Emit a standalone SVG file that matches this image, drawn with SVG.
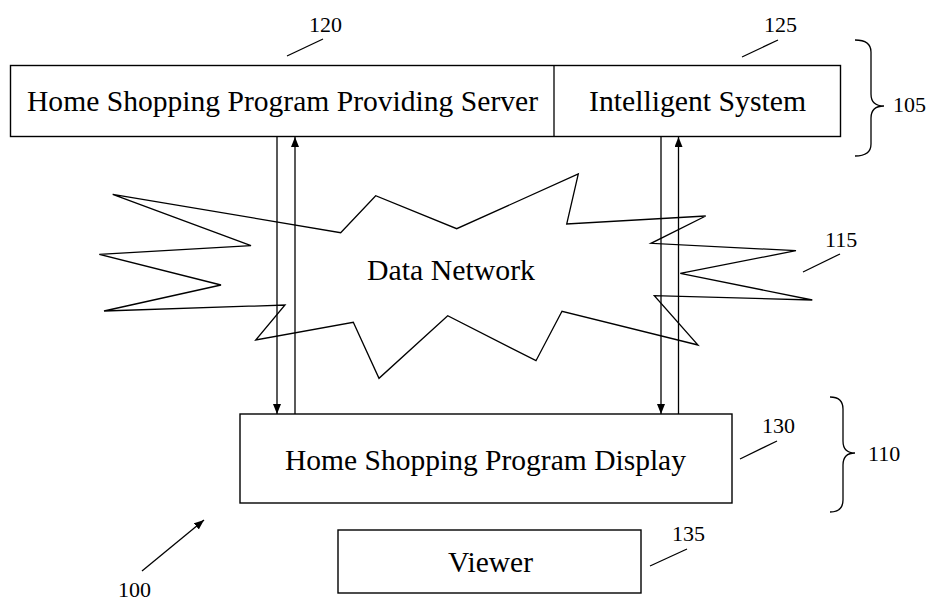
<svg xmlns="http://www.w3.org/2000/svg" width="932" height="603" viewBox="0 0 932 603">
<style>
.box{fill:#fff;stroke:#000;stroke-width:1.4}
.ln{fill:none;stroke:#000;stroke-width:1.3}
.lbl{font-family:"Liberation Serif","Times New Roman",serif;font-size:29px;fill:#000}
.num{font-family:"Liberation Serif","Times New Roman",serif;font-size:22px;fill:#000}
</style>
<defs>
<marker id="ah" markerUnits="userSpaceOnUse" markerWidth="10" markerHeight="8" refX="10" refY="4" orient="auto">
<path d="M0,0 L10,4 L0,8 z" fill="#000"/>
</marker>
</defs>
<rect width="932" height="603" fill="#fff"/>
<g id="network">
<polygon class="ln" points="112.7,194.3 251,245.7 99.3,254.3 221,285 104,311 285,305 255.7,340 353.3,322.3 379,378.3 447.7,315.7 536,360.7 562,311.3 698,345 654.3,295.7 812.3,300 680.3,273.3 796,250.7 651,243.3 705.7,216 566.7,224 578.3,174 456.7,228.7 375.7,195.7 340.7,232.7"/>
<text class="lbl" x="367" y="280" textLength="168" lengthAdjust="spacingAndGlyphs">Data Network</text>
</g>
<g id="server">
<rect class="box" x="10.5" y="65.5" width="830" height="71"/>
<line class="ln" x1="554" y1="65.5" x2="554" y2="136.5"/>
<text class="lbl" x="27" y="111" textLength="511" lengthAdjust="spacingAndGlyphs">Home Shopping Program Providing Server</text>
<text class="lbl" x="589" y="111" textLength="217" lengthAdjust="spacingAndGlyphs">Intelligent System</text>
</g>
<g id="display">
<rect class="box" x="240" y="414" width="492" height="89"/>
<text class="lbl" x="285" y="470" textLength="401" lengthAdjust="spacingAndGlyphs">Home Shopping Program Display</text>
</g>
<g id="viewer">
<rect class="box" x="338" y="530" width="303" height="63"/>
<text class="lbl" x="448" y="572" textLength="85" lengthAdjust="spacingAndGlyphs">Viewer</text>
</g>
<g id="connectors">
<line class="ln" x1="277" y1="137" x2="277" y2="414" marker-end="url(#ah)"/>
<line class="ln" x1="295" y1="414" x2="295" y2="137" marker-end="url(#ah)"/>
<line class="ln" x1="661" y1="137" x2="661" y2="414" marker-end="url(#ah)"/>
<line class="ln" x1="678.5" y1="414" x2="678.5" y2="137" marker-end="url(#ah)"/>
<line class="ln" x1="142" y1="571" x2="204" y2="520" marker-end="url(#ah)"/>
</g>
<g id="leaders">
<line class="ln" x1="287" y1="56" x2="323" y2="39"/>
<line class="ln" x1="742" y1="57" x2="778" y2="40"/>
<line class="ln" x1="803" y1="272" x2="840" y2="254"/>
<line class="ln" x1="740" y1="459" x2="777" y2="441"/>
<line class="ln" x1="650" y1="566" x2="687" y2="549"/>
<path class="ln" d="M855,40 Q871,40 871,52 L871,94 Q871,106 884,106 Q871,106 871,118 L871,144 Q871,156 855,156"/>
<path class="ln" d="M830,397 Q843,397 843,409 L843,441 Q843,453 855,453 Q843,453 843,465 L843,500 Q843,512 830,512"/>
</g>
<g id="labels">
<text class="num" x="309" y="32">120</text>
<text class="num" x="764" y="32">125</text>
<text class="num" x="893" y="112">105</text>
<text class="num" x="825" y="247">115</text>
<text class="num" x="762" y="433">130</text>
<text class="num" x="868" y="461">110</text>
<text class="num" x="672" y="541">135</text>
<text class="num" x="118" y="597">100</text>
</g>
</svg>
